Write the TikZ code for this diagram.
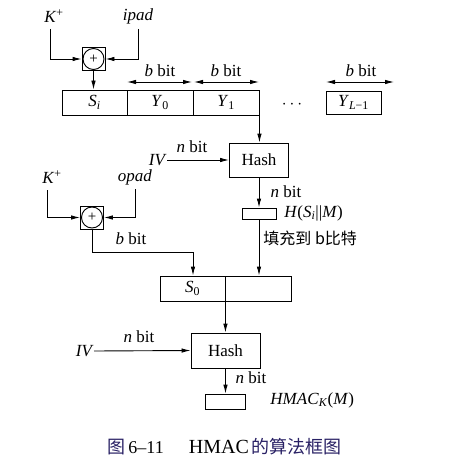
\documentclass[tikz,border=0pt]{standalone}
\usepackage{fontspec}
\setmainfont{Liberation Serif}
\newfontfamily\cjk{Noto Sans CJK SC}
\usetikzlibrary{arrows.meta}
\definecolor{capc}{RGB}{40,32,100}
\begin{document}
\begin{tikzpicture}[x=1pt,y=-1pt,
  line width=0.9pt,
  >={Latex[length=9pt,width=4.5pt]},
  lbl/.style={inner sep=0pt, font=\fontsize{17}{20}\selectfont},
  cell/.style={draw, minimum height=25pt, inner sep=0pt, font=\fontsize{17}{20}\selectfont},
  xorbox/.style={draw, minimum size=23pt, inner sep=0pt},
  xorcirc/.style={draw, circle, minimum size=21pt, inner sep=0pt, font=\fontsize{15}{15}\selectfont},
  outbox/.style={draw, inner sep=0pt}
]
\useasboundingbox (0,0) rectangle (464,476);

% ---- first row
\node[cell, minimum width=65pt] (si) at (94.5,102.5) {\textit{S}\textsubscript{\textit{i}}};
\node[cell, minimum width=66pt] (y0) at (160,102.5) {\textit{Y}\textsubscript{0}};
\node[cell, minimum width=66pt] (y1) at (226,102.5) {\textit{Y}\textsubscript{1}};
\node[lbl] (dots) at (292,105) {$\cdots$};
\node[cell, minimum width=55pt, minimum height=23pt] (yl) at (353.5,102.5) {\textit{Y}\textsubscript{\textit{L}−1}};

\coordinate (a1l) at (127,82); \coordinate (a1r) at (192,82);
\coordinate (a2l) at (194,82); \coordinate (a2r) at (259,82);
\coordinate (a3l) at (326,82); \coordinate (a3r) at (394,82);
\draw[<->] (a1l) -- (a1r);
\draw[<->] (a2l) -- (a2r);
\draw[<->] (a3l) -- (a3r);
\node[lbl] (bb1) at (160,71) {\textit{b} bit};
\node[lbl] (bb2) at (226,71) {\textit{b} bit};
\node[lbl] (bb3) at (361,71) {\textit{b} bit};

% ---- first xor
\node[xorbox] (xor1) at (93.5,59) {};
\node[xorcirc] (xor1c) at (xor1) {+};
\node[lbl] (k1) at (54,16) {\textit{K}\textsuperscript{+}};
\node[lbl] (ipad) at (138,16) {\textit{ipad}};
\coordinate (k1s) at (50,29);
\coordinate (ipads) at (138,29);
\draw[->] (k1s) |- (xor1.west);
\draw[->] (ipads) |- (xor1.east);
\draw[->] (xor1.south) -- (xor1.south |- si.north);

% ---- first hash
\node[outbox, minimum width=59pt, minimum height=34pt, font=\fontsize{17}{20}\selectfont] (hash1) at (259,160) {Hash};
\draw[->] (y1.south east) -- (y1.south east |- hash1.north);
\node[lbl, anchor=east] (iv1) at (167,160) {\textit{IV}};
\draw[->] (iv1.east) -- (hash1.west);
\node[lbl] (nb1) at (192,147) {\textit{n} bit};
\node[outbox, minimum width=34pt, minimum height=11pt] (hbox) at (259,213.5) {};
\draw[->] (hash1.south) -- (hbox.north);
\node[lbl] (nb2) at (286,192) {\textit{n} bit};
\node[lbl, anchor=west] (hlab) at (284,213) {\textit{H}(\textit{S}\textsubscript{\textit{i}}||\textit{M})};

% ---- second row
\node[cell, minimum width=65pt] (s0) at (192.5,288.5) {\textit{S}\textsubscript{0}};
\node[cell, minimum width=66pt] (r2) at (258,288.5) {};
\draw[->] (hbox.south) -- (hbox.south |- r2.north);
\node[lbl, anchor=west, font=\cjk\fontsize{16}{18}\selectfont] (pad) at (263,238) {填充到 b比特};

% ---- second xor
\node[xorbox] (xor2) at (92,217.5) {};
\node[xorcirc] (xor2c) at (xor2) {+};
\node[lbl] (k2) at (52,177) {\textit{K}\textsuperscript{+}};
\node[lbl] (opad) at (135,177) {\textit{opad}};
\coordinate (k2s) at (47,190);
\coordinate (opads) at (135,189);
\draw[->] (k2s) |- (xor2.west);
\draw[->] (opads) |- (xor2.east);
\coordinate (bend) at (193,252);
\draw[->] (xor2.south) |- (bend) -- (bend |- s0.north);
\node[lbl] (bb4) at (131,239) {\textit{b} bit};

% ---- second hash
\node[outbox, minimum width=69pt, minimum height=35pt, font=\fontsize{17}{20}\selectfont] (hash2) at (225.5,350.5) {Hash};
\draw[->] (s0.south east) -- (s0.south east |- hash2.north);
\node[lbl, anchor=east] (iv2) at (94,351) {\textit{IV}};
\draw[->] (iv2.east) -- (hash2.west);
\node[lbl] (nb3) at (139,337) {\textit{n} bit};
\node[outbox, minimum width=40pt, minimum height=15pt] (box2) at (225.5,401.5) {};
\draw[->] (hash2.south) -- (box2.north);
\node[lbl] (nb4) at (251,378) {\textit{n} bit};
\node[lbl, anchor=west] (hmac) at (270,400) {\textit{HMAC}\textsubscript{\textit{K}}(\textit{M})};

% ---- caption
\node[inner sep=0pt, anchor=west, font=\fontsize{18}{20}\selectfont] (cap) at (107,447)
  {{\cjk\color{capc}图}\,6–11\hspace{1.4em}{\fontsize{20}{20}\selectfont HMAC}\,{\cjk\color{capc}的算法框图}};
\end{tikzpicture}
\end{document}
